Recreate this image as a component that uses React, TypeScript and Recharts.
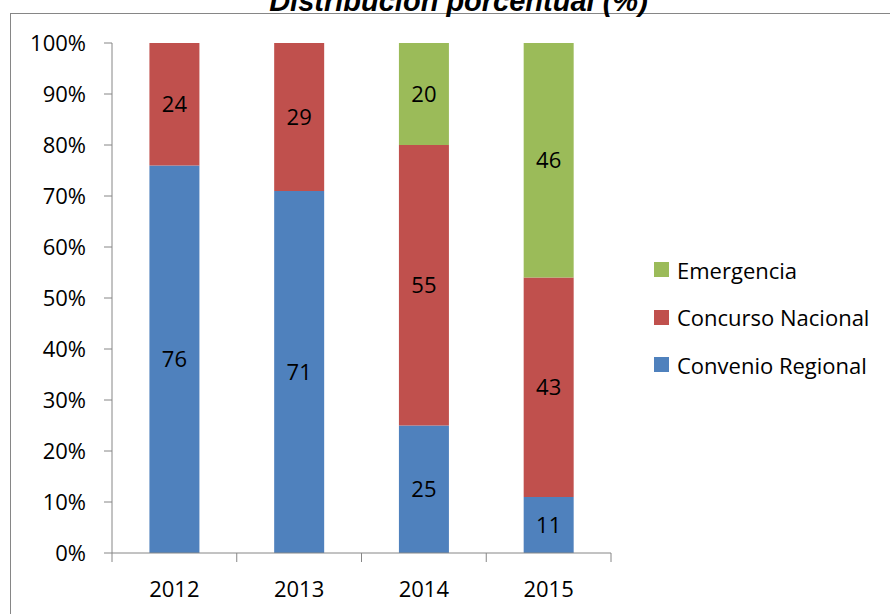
import { BarChart, Bar, XAxis, YAxis, Legend, LabelList } from 'recharts';

const years = ['2012', '2013', '2014', '2015'];
const convenioRegional = [76, 71, 25, 11];
const concursoNacional = [24, 29, 55, 43];
const emergencia = [0, 0, 20, 46];
const yTicks = [0, 10, 20, 30, 40, 50, 60, 70, 80, 90, 100];

const series = [
  { key: 'convenio', name: 'Convenio Regional', color: '#4F81BD' },
  { key: 'concurso', name: 'Concurso Nacional', color: '#C0504D' },
  { key: 'emergencia', name: 'Emergencia', color: '#9BBB59' },
];

const data = years.map((year, i) => ({
  year,
  convenio: convenioRegional[i],
  concurso: concursoNacional[i],
  emergencia: emergencia[i],
}));

const FONT = '"Open Sans", "Noto Sans", sans-serif';
const AXIS = '#868686';

const XTick = (props: any) => {
  const { x, y, payload, index, visibleTicksCount } = props;
  const off = payload.offset ?? 62.5;
  const last = index === (visibleTicksCount ?? years.length) - 1;
  return (
    <g>
      <line x1={x - off} x2={x - off} y1={y - 9} y2={y} stroke={AXIS} />
      {last && <line x1={x + off} x2={x + off} y1={y - 9} y2={y} stroke={AXIS} />}
      <text x={x} y={y + 35} textAnchor="middle" fill="#000" fontSize={22} fontFamily={FONT}>
        {payload.value}
      </text>
    </g>
  );
};

const renderLegend = () => (
  <div style={{ fontFamily: FONT, fontSize: 22, color: '#000' }}>
    {[...series].reverse().map((s) => (
      <div key={s.key} style={{ display: 'flex', alignItems: 'center', height: 47.5 }}>
        <span style={{ width: 15, height: 15, background: s.color, marginRight: 8, display: 'inline-block' }} />
        <span>{s.name}</span>
      </div>
    ))}
  </div>
);

export default function App() {
  return (
    <div style={{ position: 'absolute', left: 0, top: 0, width: 890, height: 614, overflow: 'hidden', background: '#fff' }}>
      <div style={{ position: 'absolute', left: 10, top: 13, width: 1000, height: 1000, border: `1px solid ${AXIS}` }} />
      <div
        style={{
          position: 'absolute', left: 0, width: 917, top: -18, textAlign: 'center',
          fontFamily: '"Liberation Sans", Arial, sans-serif', fontWeight: 700, fontStyle: 'italic',
          fontSize: 29, lineHeight: '38px', color: '#000', whiteSpace: 'nowrap',
        }}
      >
        Distribución porcentual (%)
      </div>
      <BarChart
        width={890}
        height={614}
        data={data}
        margin={{ top: 43, right: 279, bottom: 0, left: 0 }}
        barCategoryGap="30%"
        style={{ position: 'absolute', left: 0, top: 0 }}
      >
        <XAxis
          dataKey="year"
          height={61}
          axisLine={{ stroke: AXIS }}
          tickLine={false}
          tickSize={9}
          tickMargin={0}
          tick={<XTick />}
          interval={0}
        />
        <YAxis
          type="number"
          domain={[0, 100]}
          ticks={yTicks}
          width={112}
          interval={0}
          axisLine={{ stroke: AXIS }}
          tickLine={{ stroke: AXIS }}
          tickSize={8}
          tickMargin={18}
          tickFormatter={(v) => `${v}%`}
          tick={{ fill: '#000', fontSize: 22, fontFamily: FONT }}
        />
        <Legend
          content={renderLegend}
          layout="horizontal"
          align="center"
          verticalAlign="middle"
          wrapperStyle={{ position: 'absolute', left: 654, top: 246, width: 236 }}
        />
        {series.map((s) => (
          <Bar key={s.key} dataKey={s.key} name={s.name} stackId="a" fill={s.color} isAnimationActive={false}>
            <LabelList
              dataKey={s.key}
              position="center"
              formatter={(v: any) => (v ? v : '')}
              fill="#000"
              fontSize={22}
              fontFamily={FONT}
            />
          </Bar>
        ))}
      </BarChart>
    </div>
  );
}
